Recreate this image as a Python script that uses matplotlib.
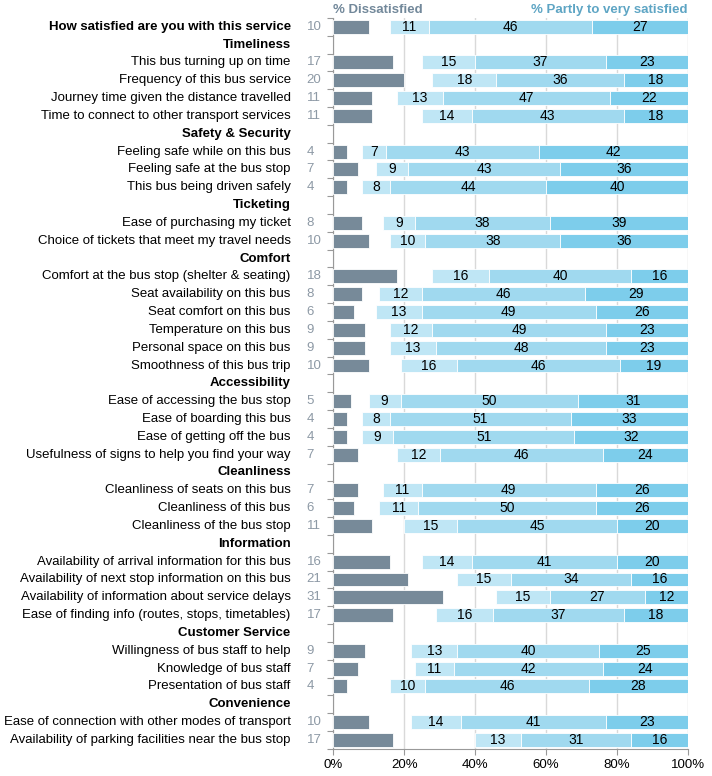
import matplotlib
matplotlib.use("Agg")
from matplotlib import pyplot as plt
import numpy as np

plt.rcParams['font.family'] = ['Liberation Sans', 'DejaVu Sans']

etiquetas = [
    "How satisfied are you with this service",
    "Timeliness",
    "This bus turning up on time",
    "Frequency of this bus service",
    "Journey time given the distance travelled",
    "Time to connect to other transport services",
    "Safety & Security",
    "Feeling safe while on this bus",
    "Feeling safe at the bus stop",
    "This bus being driven safely",
    "Ticketing",
    "Ease of purchasing my ticket",
    "Choice of tickets that meet my travel needs",
    "Comfort",
    "Comfort at the bus stop (shelter & seating)",
    "Seat availability on this bus",
    "Seat comfort on this bus",
    "Temperature on this bus",
    "Personal space on this bus",
    "Smoothness of this bus trip",
    "Accessibility",
    "Ease of accessing the bus stop",
    "Ease of boarding this bus",
    "Ease of getting off the bus",
    "Usefulness of signs to help you find your way",
    "Cleanliness",
    "Cleanliness of seats on this bus",
    "Cleanliness of this bus",
    "Cleanliness of the bus stop",
    "Information",
    "Availability of arrival information for this bus",
    "Availability of next stop information on this bus",
    "Availability of information about service delays",
    "Ease of finding info (routes, stops, timetables)",
    "Customer Service",
    "Willingness of bus staff to help",
    "Knowledge of bus staff",
    "Presentation of bus staff",
    "Convenience",
    "Ease of connection with other modes of transport",
    "Availability of parking facilities near the bus stop",
]

# None = fila de encabezado
insatisfecho = [10, None, 17, 20, 11, 11, None, 4, 7, 4, None, 8, 10, None, 18, 8, 6, 9, 9, 10,
                None, 5, 4, 4, 7, None, 7, 6, 11, None, 16, 21, 31, 17, None, 9, 7, 4, None, 10, 17]
parcial = [11, None, 15, 18, 13, 14, None, 7, 9, 8, None, 9, 10, None, 16, 12, 13, 12, 13, 16,
           None, 9, 8, 9, 12, None, 11, 11, 15, None, 14, 15, 15, 16, None, 13, 11, 10, None, 14, 13]
bastante = [46, None, 37, 36, 47, 43, None, 43, 43, 44, None, 38, 38, None, 40, 46, 49, 49, 48, 46,
            None, 50, 51, 51, 46, None, 49, 50, 45, None, 41, 34, 27, 37, None, 40, 42, 46, None, 41, 31]
muy = [27, None, 23, 18, 22, 18, None, 42, 36, 40, None, 39, 36, None, 16, 29, 26, 23, 23, 19,
       None, 31, 33, 32, 24, None, 26, 26, 20, None, 20, 16, 12, 18, None, 25, 24, 28, None, 23, 16]

col_insat = '#778a99'
col_parcial = '#bfe6f5'
col_bastante = '#a0d9ef'
col_muy = '#7dcdeb'

fig = plt.figure(figsize=(7.12, 7.76), dpi=100)
ax = fig.add_axes([0.468, 0.035, 0.498, 0.942])

n = len(etiquetas)
alto = 0.78
for i, lab in enumerate(etiquetas):
    y = i
    es_titulo = insatisfecho[i] is None or i == 0
    ax.text(-0.12, y, lab, transform=ax.get_yaxis_transform(), ha='right', va='center',
            fontsize=9.5, fontweight='bold' if es_titulo else 'normal')
    if insatisfecho[i] is None:
        continue
    ax.barh(y, insatisfecho[i], height=alto, color=col_insat, edgecolor='white', linewidth=0.6, zorder=3)
    ax.text(-0.075, y, str(insatisfecho[i]), transform=ax.get_yaxis_transform(), ha='left',
            va='center', fontsize=9.5, color='#8d99a5')
    inicio = 100 - (parcial[i] + bastante[i] + muy[i])
    for val, col in [(parcial[i], col_parcial), (bastante[i], col_bastante), (muy[i], col_muy)]:
        ax.barh(y, val, left=inicio, height=alto, color=col, edgecolor='white', linewidth=0.6, zorder=3)
        ax.text(inicio + val / 2, y, str(val), ha='center', va='center', fontsize=10, zorder=4)
        inicio += val

ax.set_xlim(0, 100)
ax.set_ylim(n - 0.5, -0.5)
ax.set_xticks([0, 20, 40, 60, 80, 100])
ax.set_xticklabels(['0%', '20%', '40%', '60%', '80%', '100%'], fontsize=9.5)
ax.set_yticks(np.arange(-0.5, n, 1))
ax.set_yticklabels([])
ax.tick_params(axis='y', length=4, color='#999999', direction='out')
ax.tick_params(axis='x', length=4, color='#999999')
ax.grid(axis='x', color='#d9d9d9', linewidth=1, zorder=0)
for s in ['top', 'right']:
    ax.spines[s].set_visible(False)
for s in ['left', 'bottom']:
    ax.spines[s].set_color('#999999')

ax.text(0, 1.003, '% Dissatisfied', transform=ax.transAxes, ha='left', va='bottom',
        fontsize=9.5, fontweight='bold', color='#72889a')
ax.text(1.0, 1.003, '% Partly to very satisfied', transform=ax.transAxes, ha='right', va='bottom',
        fontsize=9.5, fontweight='bold', color='#5ea5c4')

plt.savefig('out.png', dpi=100)
